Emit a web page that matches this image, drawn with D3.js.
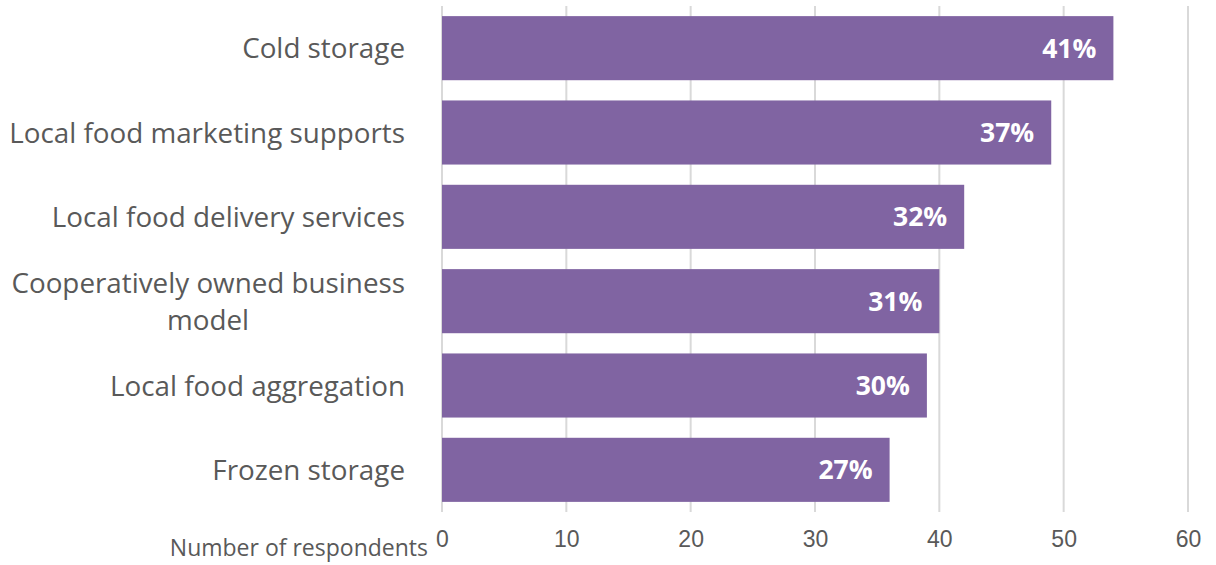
<meta charset="utf-8">
<title>Respondents</title>
<style>
  body { margin: 0; background: #fff; }
  svg { display: block; }
</style>
<body>
<script src="https://cdn.jsdelivr.net/npm/d3@7"></script>
<script>

var width = 1216;
var height = 565;
var margin = { top: 6, right: 28, bottom: 53, left: 442 };

// data
var categories = ['Cold storage', 'Local food marketing supports', 'Local food delivery services',
                  'Cooperatively owned business model', 'Local food aggregation', 'Frozen storage'];
var respondents = [54, 49, 42, 40, 39, 36];
var shares = ['41%', '37%', '32%', '31%', '30%', '27%'];
var xTicks = [0, 10, 20, 30, 40, 50, 60];

// wrapped label lines
var labelLines = {
  'Cooperatively owned business model': ['Cooperatively owned business', 'model']
};

var svg = d3.select('body').append('svg')
    .attr('width', width)
    .attr('height', height);

var x = d3.scaleLinear()
    .domain([0, 60])
    .range([margin.left, width - margin.right]);

var y = d3.scaleBand()
    .domain(categories)
    .range([margin.top, height - margin.bottom])
    .paddingInner(0.24)
    .paddingOuter(0.12);

// gridlines
svg.append('g').selectAll('line')
    .data(xTicks)
    .enter().append('line')
    .attr('x1', function(d) { return x(d); })
    .attr('x2', function(d) { return x(d); })
    .attr('y1', margin.top)
    .attr('y2', height - margin.bottom)
    .style('stroke', '#d9d9d9')
    .style('stroke-width', 2);

// bars
svg.append('g').selectAll('rect')
    .data(categories)
    .enter().append('rect')
    .attr('x', x(0))
    .attr('y', function(d) { return y(d); })
    .attr('width', function(d, i) { return x(respondents[i]) - x(0); })
    .attr('height', y.bandwidth())
    .style('fill', '#8064a2');

// value labels
svg.append('g').selectAll('text')
    .data(categories)
    .enter().append('text')
    .attr('x', function(d, i) { return x(respondents[i]) - 17; })
    .attr('y', function(d) { return y(d) + y.bandwidth() / 2; })
    .attr('dy', '0.36em')
    .attr('text-anchor', 'end')
    .style('font-family', '"Open Sans", sans-serif')
    .style('font-weight', 'bold')
    .style('font-size', '26.5px')
    .style('fill', '#fff')
    .text(function(d, i) { return shares[i]; });

// category labels
var catG = svg.append('g').selectAll('text')
    .data(categories)
    .enter().append('text')
    .attr('text-anchor', 'end')
    .style('font-family', '"Open Sans", sans-serif')
    .style('font-size', '27.8px')
    .style('fill', '#595959')
    .attr('transform', function(d) {
      return 'translate(405,' + (y(d) + y.bandwidth() / 2) + ')';
    });

catG.each(function(d) {
  var lines = labelLines[d] || [d];
  var t = d3.select(this);
  var lh = 1.33;
  var start = -(lines.length - 1) * 0.5 * lh;
  lines.forEach(function(line, j) {
    t.append('tspan')
      .attr('x', j === 1 ? -(405 - 208) : 0)
      .attr('text-anchor', j === 1 ? 'middle' : 'end')
      .attr('dy', (j === 0 ? start + 0.36 : lh) + 'em')
      .text(line);
  });
});

// x axis
var xAxis = d3.axisBottom(x)
    .tickValues(xTicks)
    .tickSize(0)
    .tickPadding(19);

var gX = svg.append('g')
    .attr('transform', 'translate(0,' + (height - margin.bottom) + ')')
    .call(xAxis);
gX.select('.domain').remove();
gX.selectAll('text')
    .style('font-family', '"Liberation Sans", Arial, sans-serif')
    .style('font-size', '23px')
    .style('fill', '#595959');

// axis title
svg.append('text')
    .attr('x', 428)
    .attr('y', 556)
    .attr('text-anchor', 'end')
    .style('font-family', '"Open Sans", sans-serif')
    .style('font-size', '23px')
    .style('fill', '#595959')
    .text('Number of respondents');

</script>
